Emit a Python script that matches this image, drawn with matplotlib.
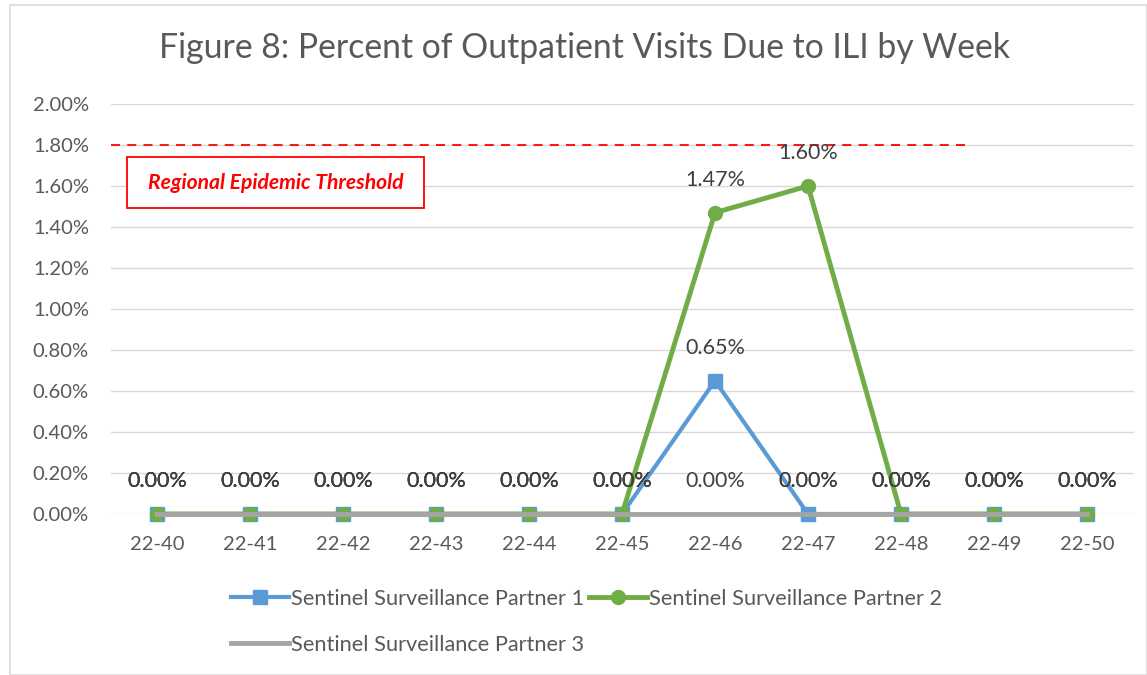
import matplotlib
matplotlib.use("Agg")
import matplotlib.pyplot as plt
from matplotlib.patches import Rectangle

weeks = ["22-40", "22-41", "22-42", "22-43", "22-44", "22-45", "22-46", "22-47", "22-48", "22-49", "22-50"]
partner1 = [0.0, 0.0, 0.0, 0.0, 0.0, 0.0, 0.0065, 0.0, 0.0, 0.0, 0.0]
partner2 = [0.0, 0.0, 0.0, 0.0, 0.0, 0.0, 0.0147, 0.0160, 0.0, 0.0, 0.0]
partner3 = [0.0, 0.0, 0.0, 0.0, 0.0, 0.0, 0.0, 0.0, 0.0, 0.0, 0.0]
threshold = 0.018
threshold_end = 8.7
yticks = [0.0, 0.002, 0.004, 0.006, 0.008, 0.010, 0.012, 0.014, 0.016, 0.018, 0.020]

plt.rcParams['font.family'] = ['Lato', 'DejaVu Sans']

fig = plt.figure(figsize=(11.47, 6.75), dpi=100)
fig.patches.append(Rectangle((10/1147, 0), 1 - 10/1147, 1 - 5/675, transform=fig.transFigure,
                             fill=False, edgecolor='#d9d9d9', linewidth=1.2))
ax = fig.add_axes([110.5/1147, 1 - 514/675, 1023/1147, 410/675])

x = list(range(len(weeks)))
c1, c2, c3 = '#5B9BD5', '#70AD47', '#A5A5A5'
l1, = ax.plot(x, partner1, color=c1, lw=3, marker='s', ms=10.5, zorder=3, clip_on=False,
              label='Sentinel Surveillance Partner 1')
l2, = ax.plot(x, partner2, color=c2, lw=3.5, marker='o', ms=10, zorder=4, clip_on=False,
              label='Sentinel Surveillance Partner 2')
l3, = ax.plot(x, partner3, color=c3, lw=3.5, zorder=5, clip_on=False,
              label='Sentinel Surveillance Partner 3')

for series in (partner1, partner2, partner3):
    for xi, v in zip(x, series):
        ax.annotate(f"{v*100:.2f}%", (xi, v), xytext=(0, 23.5), textcoords='offset points',
                    ha='center', va='center', fontsize=15.5, color='#404040', zorder=6)

ax.plot([-0.5, threshold_end], [threshold, threshold], color='#FF0000', lw=1.3,
        ls=(0, (5, 4)), zorder=2)
ax.add_patch(Rectangle((-0.323, 0.014927), 3.194, 0.002488, fc='white', ec='#FF0000',
                       lw=1.3, zorder=6))
ax.text(1.274, 0.01617, "Regional Epidemic Threshold", ha='center', va='center',
        fontsize=15.2, fontweight='bold', fontstyle='italic', color='#FF0000', zorder=7)

ax.set_xlim(-0.5, len(weeks) - 0.5)
ax.set_ylim(0, 0.02)
ax.set_yticks(yticks)
ax.set_yticklabels([f"{t*100:.2f}%" for t in yticks])
ax.set_xticks(x)
ax.set_xticklabels(weeks)
ax.tick_params(axis='both', length=0, labelsize=14.5, labelcolor='#595959')
ax.tick_params(axis='x', pad=16)
ax.tick_params(axis='y', pad=15.5)
ax.grid(axis='y', color='#d9d9d9', lw=1)
ax.set_axisbelow(True)
for s in ax.spines.values():
    s.set_visible(False)

fig.text(0.51, 1 - 48/675, "Figure 8: Percent of Outpatient Visits Due to ILI by Week",
         ha='center', va='center', fontsize=24.3, color='#595959')

leg = fig.legend([l1, l3, l2], [l1.get_label(), l3.get_label(), l2.get_label()], ncol=2,
                 loc='upper left', bbox_to_anchor=(220/1147, 1 - 578/675), frameon=False,
                 fontsize=15.7, handlelength=2.65, handletextpad=0.1, columnspacing=0.25,
                 labelspacing=1.18, borderpad=0)
for t in leg.get_texts():
    t.set_color('#595959')

fig.savefig("out.png", dpi=100)
